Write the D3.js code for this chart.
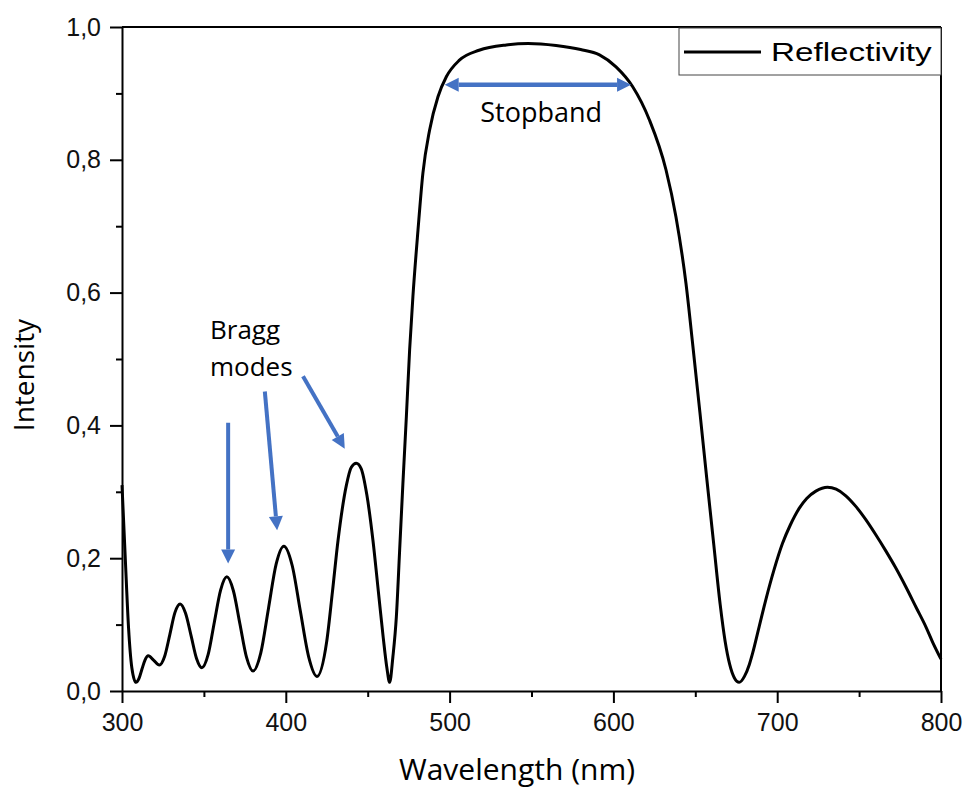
<!DOCTYPE html>
<html>
<head>
<meta charset="utf-8">
<script src="https://cdn.jsdelivr.net/npm/d3@7"></script>
<style>
  body { margin: 0; background: #fff; }
  svg { display: block; }
</style>
</head>
<body>
<div id="chart"></div>
<script>
// wavelength (nm) and reflectivity
const wavelength = [
  300, 302, 304, 306, 308.5, 310.4, 312.2, 314.1, 316, 319.4, 322.8,
  326, 329.2, 332.3, 335.5, 338.8, 342.2, 345.5, 348.8, 352.6, 356.4, 360.2, 364,
  368, 372, 376, 380, 384.7, 389.4, 394.1, 398.8, 403.9, 408.9, 414, 419,
  425, 428.5, 431.9, 437, 440, 443, 446, 449.5, 453.2, 456.5, 459.5, 461.7, 463.4,
  465.4, 467.5, 469.5, 471.5, 473.6, 475.6, 477.6, 480.7, 483.7, 487.8, 492.9, 498, 506,
  518, 534.6, 548, 565, 580, 591.5, 601.6, 611.8, 622, 632.1, 638.2, 644.3,
  648.5, 652.8, 657, 661.3, 665.2, 668.2, 671, 673.8, 676.8, 680, 683, 685, 689, 693, 698,
  703.2, 708, 713.4, 718, 723.6, 730.7, 736, 741.9, 748, 754.1, 760, 766.3, 772,
  778.5, 785, 790.7, 795, 800
];
const reflectivity = [
  0.31, 0.20, 0.095, 0.035, 0.013, 0.019, 0.033, 0.047, 0.053, 0.046, 0.039,
  0.052, 0.085, 0.118, 0.131, 0.117, 0.083, 0.049, 0.035, 0.055, 0.104, 0.152, 0.172,
  0.151, 0.101, 0.051, 0.030, 0.057, 0.124, 0.191, 0.218, 0.189, 0.120, 0.051, 0.022,
  0.075, 0.15, 0.227, 0.31, 0.337, 0.343, 0.335, 0.295, 0.227, 0.15, 0.08, 0.035, 0.013,
  0.052, 0.112, 0.212, 0.313, 0.413, 0.514, 0.594, 0.694, 0.780, 0.845, 0.895, 0.925, 0.950,
  0.965, 0.973, 0.975, 0.972, 0.966, 0.958, 0.940, 0.910, 0.860, 0.785, 0.714, 0.614,
  0.52, 0.42, 0.32, 0.22, 0.13, 0.075, 0.040, 0.020, 0.013, 0.022, 0.040, 0.057, 0.097, 0.137, 0.182,
  0.222, 0.250, 0.275, 0.290, 0.301, 0.307, 0.304, 0.294, 0.278, 0.258, 0.236, 0.211, 0.187,
  0.157, 0.125, 0.097, 0.073, 0.048
];

const xTicks = [300, 400, 500, 600, 700, 800];
const yTicks = [0, 0.2, 0.4, 0.6, 0.8, 1.0];
const legendLabel = 'Reflectivity';

// annotation arrows in data units: [x1, y1, x2, y2]
const braggArrows = [
  [364.8, 0.404, 364.8, 0.192],
  [387.2, 0.451, 394.7, 0.242],
  [410.5, 0.474, 436, 0.365]
];
const stopbandArrow = [497, 0.913, 610.8, 0.913];

const width = 967, height = 791;
const margin = { top: 27, right: 26, bottom: 100, left: 122 };
const innerW = width - margin.left - margin.right;
const innerH = height - margin.top - margin.bottom;

const svg = d3.select('#chart').append('svg')
  .attr('width', width)
  .attr('height', height);

const g = svg.append('g')
  .attr('transform', `translate(${margin.left},${margin.top})`);

const x = d3.scaleLinear().domain([300, 800]).range([0, innerW]);
const y = d3.scaleLinear().domain([0, 1]).range([innerH, 0]);

const fmt = v => d3.format('.1f')(v).replace('.', ',');
const tickFont = '"Liberation Sans", Arial, sans-serif';
const labelFont = '"Open Sans", sans-serif';

// minor ticks
g.append('g')
  .attr('transform', `translate(0,${innerH})`)
  .call(d3.axisBottom(x).tickValues(d3.range(350, 800, 100)).tickSize(6).tickFormat(''))
  .call(a => a.select('.domain').remove())
  .call(a => a.selectAll('line').attr('stroke-width', 2));
g.append('g')
  .call(d3.axisLeft(y).tickValues(d3.range(0.1, 1, 0.2)).tickSize(6).tickFormat(''))
  .call(a => a.select('.domain').remove())
  .call(a => a.selectAll('line').attr('stroke-width', 2));

// major axes
const xAxis = g.append('g')
  .attr('transform', `translate(0,${innerH})`)
  .call(d3.axisBottom(x).tickValues(xTicks).tickSize(12).tickSizeOuter(0).tickPadding(10));
const yAxis = g.append('g')
  .call(d3.axisLeft(y).tickValues(yTicks).tickSize(12).tickSizeOuter(0).tickPadding(9).tickFormat(fmt));

[xAxis, yAxis].forEach(a => {
  a.selectAll('line').attr('stroke-width', 2);
  a.select('.domain').attr('stroke-width', 2);
  a.selectAll('text')
    .attr('font-family', tickFont)
    .attr('font-size', 25)
    .attr('fill', '#111');
});

// top and right frame
g.append('line').attr('x1', 0).attr('x2', innerW).attr('y1', 0).attr('y2', 0)
  .attr('stroke', '#000').attr('stroke-width', 2);
g.append('line').attr('x1', innerW).attr('x2', innerW).attr('y1', 0).attr('y2', innerH)
  .attr('stroke', '#000').attr('stroke-width', 2);

// curve
const data = wavelength.map((w, i) => ({ w, r: reflectivity[i] }));
const line = d3.line()
  .x(d => x(d.w))
  .y(d => y(d.r))
  .curve(d3.curveMonotoneX);

g.append('path')
  .datum(data)
  .attr('fill', 'none')
  .attr('stroke', '#000')
  .attr('stroke-width', 3)
  .attr('stroke-linejoin', 'round')
  .attr('d', line);

// arrows
const blue = '#4472C4';
function arrowHead(x1, y1, x2, y2) {
  const ang = Math.atan2(y2 - y1, x2 - x1);
  const len = 14, half = 7;
  const bx = x2 - len * Math.cos(ang), by = y2 - len * Math.sin(ang);
  const px = -Math.sin(ang) * half, py = Math.cos(ang) * half;
  g.append('path')
    .attr('d', `M${x2},${y2}L${bx + px},${by + py}L${bx - px},${by - py}Z`)
    .attr('fill', blue);
  return [bx, by];
}
braggArrows.forEach(([a, b, c, d]) => {
  const x1 = x(a), y1 = y(b), x2 = x(c), y2 = y(d);
  const [bx, by] = arrowHead(x1, y1, x2, y2);
  g.append('line')
    .attr('x1', x1).attr('y1', y1).attr('x2', bx).attr('y2', by)
    .attr('stroke', blue).attr('stroke-width', 4);
});
{
  const [a, b, c, d] = stopbandArrow;
  const x1 = x(a), y1 = y(b), x2 = x(c), y2 = y(d);
  const [bx2] = arrowHead(x1, y1, x2, y2);
  const [bx1] = arrowHead(x2, y2, x1, y1);
  g.append('line')
    .attr('x1', bx1).attr('y1', y1).attr('x2', bx2).attr('y2', y2)
    .attr('stroke', blue).attr('stroke-width', 4.5);
}

// annotation text
g.append('text')
  .attr('x', x(555.9)).attr('y', y(0.857))
  .attr('text-anchor', 'middle')
  .attr('font-family', labelFont).attr('font-size', 27)
  .text('Stopband');
const bragg = g.append('text')
  .attr('x', x(353.7)).attr('y', y(0.53))
  .attr('font-family', labelFont).attr('font-size', 26);
bragg.append('tspan').attr('x', x(353.7)).text('Bragg');
bragg.append('tspan').attr('x', x(353.7)).attr('dy', 37).text('modes');

// axis titles
svg.append('text')
  .attr('x', 517).attr('y', 780)
  .attr('text-anchor', 'middle')
  .attr('font-family', labelFont).attr('font-size', 30)
  .text('Wavelength (nm)');
svg.append('text')
  .attr('transform', 'translate(34,375) rotate(-90)')
  .attr('text-anchor', 'middle')
  .attr('font-family', labelFont).attr('font-size', 28)
  .text('Intensity');

// legend
const lg = g.append('g').attr('transform', `translate(${innerW - 262},1)`);
lg.append('rect')
  .attr('width', 262).attr('height', 47)
  .attr('fill', '#fff').attr('stroke', '#444').attr('stroke-width', 1);
lg.append('line')
  .attr('x1', 5).attr('x2', 82).attr('y1', 24).attr('y2', 24)
  .attr('stroke', '#000').attr('stroke-width', 3);
lg.append('text')
  .attr('transform', 'translate(92,33) scale(1.33,1)')
  .attr('font-family', tickFont).attr('font-size', 25)
  .text(legendLabel);
</script>
</body>
</html>
